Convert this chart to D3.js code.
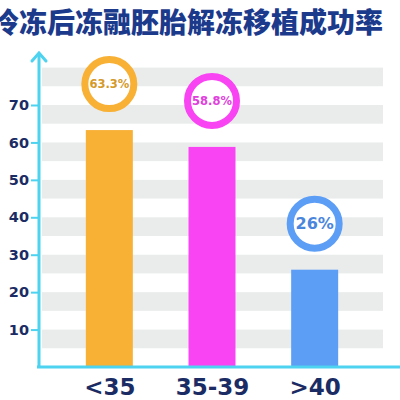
<!DOCTYPE html>
<html>
<head>
<meta charset="utf-8">
<script src="https://cdn.jsdelivr.net/npm/d3@7"></script>
<style>
  body { margin: 0; background: #fff; }
  svg { display: block; }
</style>
</head>
<body>
<script>
// chart data
const title = '冷冻后冻融胚胎解冻移植成功率';
const groups = ['<35', '35-39', '>40'];
const rates = [63.3, 58.8, 26];
const rateLabels = ['63.3%', '58.8%', '26%'];
const yTicks = [10, 20, 30, 40, 50, 60, 70];
const bandTops = [10, 20, 30, 40, 50, 60, 70, 80];

const colors = ['#f8b035', '#f944f3', '#5c9df6'];
const labelColors = ['#d49a2c', '#e040dc', '#4a86dc'];
const labelSizes = [11.5, 11.5, 16];

const width = 400;
const height = 400;

const svg = d3.select('body')
  .append('svg')
  .attr('width', width)
  .attr('height', height);

// scales
const x = d3.scalePoint()
  .domain(groups)
  .range([58, 366])
  .padding(0.5);

const y = d3.scaleLinear()
  .domain([0, 70])
  .range([367, 105]);

const barW = 47;
const axisColor = '#4dd2ef';
const navy = '#1b2b63';

// title, left edge is cut off like the picture
svg.append('text')
  .attr('x', -9)
  .attr('y', 33)
  .attr('font-family', '"Noto Sans CJK SC", sans-serif')
  .attr('font-weight', 900)
  .attr('font-size', 28)
  .attr('fill', '#1c3a8c')
  .text(title);

// striped background
svg.selectAll('rect.band')
  .data(bandTops)
  .join('rect')
  .attr('class', 'band')
  .attr('x', 42)
  .attr('width', 341)
  .attr('y', d => y(d))
  .attr('height', d => y(d - 5) - y(d))
  .attr('fill', '#eaecec');

// bars
svg.selectAll('rect.bar')
  .data(rates)
  .join('rect')
  .attr('class', 'bar')
  .attr('x', (d, i) => x(groups[i]) - barW / 2)
  .attr('width', barW)
  .attr('y', d => y(d))
  .attr('height', d => y(0) - y(d))
  .attr('fill', (d, i) => colors[i]);

// value bubbles
svg.selectAll('circle.bubble')
  .data(rates)
  .join('circle')
  .attr('class', 'bubble')
  .attr('cx', (d, i) => x(groups[i]))
  .attr('cy', d => y(d) - 46)
  .attr('r', 24.5)
  .attr('fill', '#fff')
  .attr('stroke', (d, i) => colors[i])
  .attr('stroke-width', 7);

svg.selectAll('text.rate')
  .data(rates)
  .join('text')
  .attr('class', 'rate')
  .attr('x', (d, i) => x(groups[i]))
  .attr('y', d => y(d) - 46)
  .attr('dy', '0.36em')
  .attr('text-anchor', 'middle')
  .attr('font-family', '"DejaVu Sans", Verdana, sans-serif')
  .attr('font-weight', 'bold')
  .attr('font-size', (d, i) => labelSizes[i])
  .attr('fill', (d, i) => labelColors[i])
  .text((d, i) => rateLabels[i]);

// y axis
const yAxis = svg.append('g')
  .attr('transform', 'translate(39,0)')
  .call(d3.axisLeft(y).tickValues(yTicks).tickSize(8).tickPadding(2));

yAxis.select('.domain').remove();
yAxis.selectAll('line')
  .attr('stroke', axisColor)
  .attr('stroke-width', 2);
yAxis.selectAll('text')
  .attr('font-family', '"DejaVu Sans", Verdana, sans-serif')
  .attr('font-weight', 'bold')
  .attr('font-size', 14.5)
  .attr('fill', navy);

svg.append('line')
  .attr('x1', 39).attr('x2', 39)
  .attr('y1', y(0) + 1).attr('y2', 53)
  .attr('stroke', axisColor)
  .attr('stroke-width', 3);

svg.append('path')
  .attr('d', 'M32,61 L39,53 L46,61')
  .attr('fill', 'none')
  .attr('stroke', axisColor)
  .attr('stroke-width', 3)
  .attr('stroke-linecap', 'round');

// x axis
const xAxis = svg.append('g')
  .attr('transform', `translate(0,${y(0)})`)
  .call(d3.axisBottom(x).tickSize(0).tickPadding(10));

xAxis.select('.domain').remove();
xAxis.selectAll('text')
  .attr('dy', null)
  .attr('y', 28)
  .attr('font-family', '"DejaVu Sans", Verdana, sans-serif')
  .attr('font-weight', 'bold')
  .attr('font-size', 23)
  .attr('fill', navy);

svg.append('line')
  .attr('x1', 37).attr('x2', 400)
  .attr('y1', y(0)).attr('y2', y(0))
  .attr('stroke', axisColor)
  .attr('stroke-width', 3);
</script>
</body>
</html>
